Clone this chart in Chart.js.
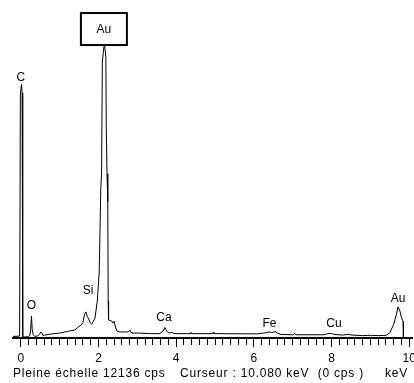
<!DOCTYPE html>
<html><head><meta charset="utf-8">
<script src="https://cdn.jsdelivr.net/npm/chart.js@4.4.0/dist/chart.umd.min.js"></script>
<style>html,body{margin:0;padding:0;background:#fff}canvas{display:block}</style>
</head><body>
<canvas id="c" width="414" height="383"></canvas>
<script>
// Spectre EDS : énergie (keV) en x, coups (cps) en y, pleine échelle 12136 cps.
const FULL_SCALE = 12136;
const energy = [-0.20, -0.03, -0.01, 0.02, 0.035, 0.05, 0.08, 0.18, 0.23, 0.255, 0.275, 0.295, 0.32, 0.36,
  0.44, 0.49, 0.515, 0.54, 0.57, 0.62, 0.80, 1.00, 1.20, 1.39, 1.45, 1.50, 1.55, 1.60, 1.64, 1.675, 1.71,
  1.75, 1.79, 1.82, 1.86, 1.91, 1.97, 2.02, 2.06, 2.08, 2.10, 2.12, 2.152, 2.19, 2.20, 2.22, 2.24, 2.25,
  2.26, 2.34, 2.37, 2.405, 2.436, 2.474, 2.55, 2.70, 2.78, 2.81, 2.84, 2.86, 3.07, 3.32, 3.58, 3.66, 3.71,
  3.76, 3.81, 3.89, 3.97, 4.36, 4.38, 4.40, 4.93, 4.95, 4.97, 6.10, 6.18, 6.30, 6.40, 6.46, 6.55, 6.62,
  6.70, 7.00, 7.05, 7.08, 7.80, 7.90, 8.00, 8.06, 8.30, 8.45, 8.50, 8.80, 9.00, 9.20, 9.40, 9.50, 9.60,
  9.67, 9.71, 9.76, 9.80, 9.84, 9.85];
const counts = [60, 70, 8800, 9110, 8800, 50, 40, 50, 90, 300, 790, 300, 120, 60,
  80, 150, 220, 200, 90, 110, 150, 180, 240, 290, 360, 420, 460, 560, 850, 940, 780,
  680, 540, 500, 580, 720, 1330, 2410, 5400, 5900, 9900, 10200, 10590, 10100, 7600, 5900, 4900, 1330,
  650, 610, 540, 610, 400, 250, 220, 220, 230, 280, 200, 180, 180, 160, 160, 250, 380,
  250, 180, 200, 160, 160, 210, 160, 160, 210, 160, 150, 170, 190, 220, 200, 230, 170,
  130, 120, 160, 120, 120, 160, 170, 130, 110, 140, 110, 90, 100, 90, 100, 190, 500,
  860, 1120, 970, 730, 600, 0];

// étiquettes des raies (position en keV / cps)
const peakNames = ['C', 'O', 'Si', 'Au', 'Ca', 'Fe', 'Cu', 'Au'];
const peakKeV   = [0.0, 0.276, 1.735, 2.14, 3.686, 6.40, 8.06, 9.71];
const peakCps   = [9400, 1205, 1733, 11094, 773, 568, 547, 1467];
const peakBoxed = [false, false, false, true, false, false, false, false];
const footer = ['Pleine échelle 12136 cps', 'Curseur : 10.080 keV  (0 cps )', 'keV'];

const FONT = '12px "Liberation Sans", Arial, sans-serif';

const labels = {
  id: 'labels',
  afterDatasetsDraw(chart) {
    const { ctx, scales: { x, y } } = chart;
    ctx.save();
    ctx.font = FONT;
    ctx.fillStyle = '#000';
    ctx.textAlign = 'center';
    ctx.textBaseline = 'middle';
    peakNames.forEach((n, i) => {
      const px = x.getPixelForValue(peakKeV[i]), py = y.getPixelForValue(peakCps[i]);
      if (peakBoxed[i]) {
        ctx.fillStyle = '#fff';
        ctx.fillRect(px - 23, py - 16, 46, 32);
        ctx.strokeStyle = '#000';
        ctx.lineWidth = 2;
        ctx.strokeRect(px - 23, py - 16, 46, 32);
        ctx.fillStyle = '#000';
      }
      ctx.fillText(n, px, py + 1);
    });
    ctx.textAlign = 'left';
    ctx.letterSpacing = '0.8px';
    ctx.fillText(footer[0], 13, 374);
    ctx.fillText(footer[1], 180, 374);
    ctx.fillText(footer[2], 385, 374);
    ctx.restore();
  }
};

const isMajor = v => Math.abs(v / 2 - Math.round(v / 2)) < 1e-6;

new Chart(document.getElementById('c'), {
  type: 'scatter',
  data: { datasets: [{
    data: energy.map((e, i) => ({ x: e, y: counts[i] })),
    showLine: true, borderColor: '#000', borderWidth: 1, pointRadius: 0, tension: 0,
  }] },
  options: {
    responsive: false, animation: false, devicePixelRatio: 1,
    layout: { padding: { left: 13, right: 2, top: 0, bottom: 13.5 } },
    plugins: { legend: { display: false }, tooltip: { enabled: false } },
    scales: {
      x: {
        type: 'linear', min: -0.2, max: 10.07,
        afterBuildTicks: s => { s.ticks = s.ticks.filter(t => t.value > -0.1 && t.value < 10.01); },
        afterFit: s => { s.paddingLeft = 0; s.paddingRight = 0; },
        ticks: { stepSize: 0.2, includeBounds: false, autoSkip: false, maxRotation: 0, padding: 4,
                 color: '#000', font: { family: '"Liberation Sans", Arial, sans-serif', size: 12 },
                 callback: v => isMajor(v) ? String(Math.round(v)) : '' },
        grid: { drawOnChartArea: false, color: '#000', tickLength: 9,
                tickBorderDash: c => isMajor(c.tick ? c.tick.value : 0) ? [] : [6, 40] },
        border: { color: '#000', width: 2 },
      },
      y: { display: false, min: 0, max: FULL_SCALE },
    },
  },
  plugins: [labels],
});
</script>
</body></html>
